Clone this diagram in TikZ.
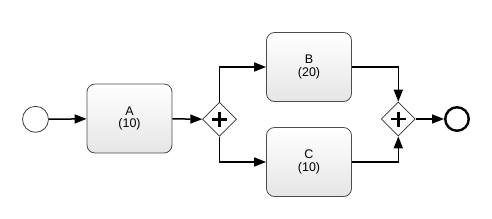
\documentclass[tikz,border=0pt]{standalone}
\usepackage{fontspec}
\setmainfont{Liberation Sans}
\usetikzlibrary{arrows.meta,shapes.geometric,shadings}
\begin{document}
\begin{tikzpicture}[x=1pt,y=-1pt,
  task/.style={draw=black!70,line width=0.8pt,rounded corners=8pt,minimum width=85pt,minimum height=69pt,
    top color=white,bottom color=black!10,align=center,font=\fontsize{12.5}{12.5}\selectfont,inner sep=0pt},
  gate/.style={diamond,draw=black!80,line width=0.7pt,fill=white,minimum width=34pt,minimum height=34pt,inner sep=0pt},
  flow/.style={line width=1.5pt,-{Triangle[length=12pt,width=9pt]}},
  plusmark/.style={line width=2.8pt}
]
\useasboundingbox (0,0) rectangle (492,218);
\node[circle,draw=black!75,line width=0.8pt,fill=white,minimum size=26pt,inner sep=0pt] (start) at (35.5,119.3) {};
\node[task] (A) at (129.5,118.5) {A\\(10)};
\node[gate] (G1) at (219.5,119.3) {};
\node[task] (B) at (309,67) {B\\(20)};
\node[task] (C) at (309,162) {C\\(10)};
\node[gate] (G2) at (398.3,119) {};
\node[circle,draw=black,line width=2.4pt,fill=white,minimum size=23.5pt,inner sep=0pt] (end) at (457,119) {};
\foreach \g in {G1,G2}{
  \draw[plusmark] ([xshift=-7.5pt]\g.center) -- ([xshift=7.5pt]\g.center);
  \draw[plusmark] ([yshift=-7.5pt]\g.center) -- ([yshift=7.5pt]\g.center);
}
\draw[flow] (start) -- (A);
\draw[flow] (A) -- (G1);
\draw[flow] (G1.north) |- (B.west);
\draw[flow] (G1.south) |- (C.west);
\draw[flow] (B.east) -| (G2.north);
\draw[flow] (C.east) -| (G2.south);
\draw[flow] (G2) -- (end);
\end{tikzpicture}
\end{document}
